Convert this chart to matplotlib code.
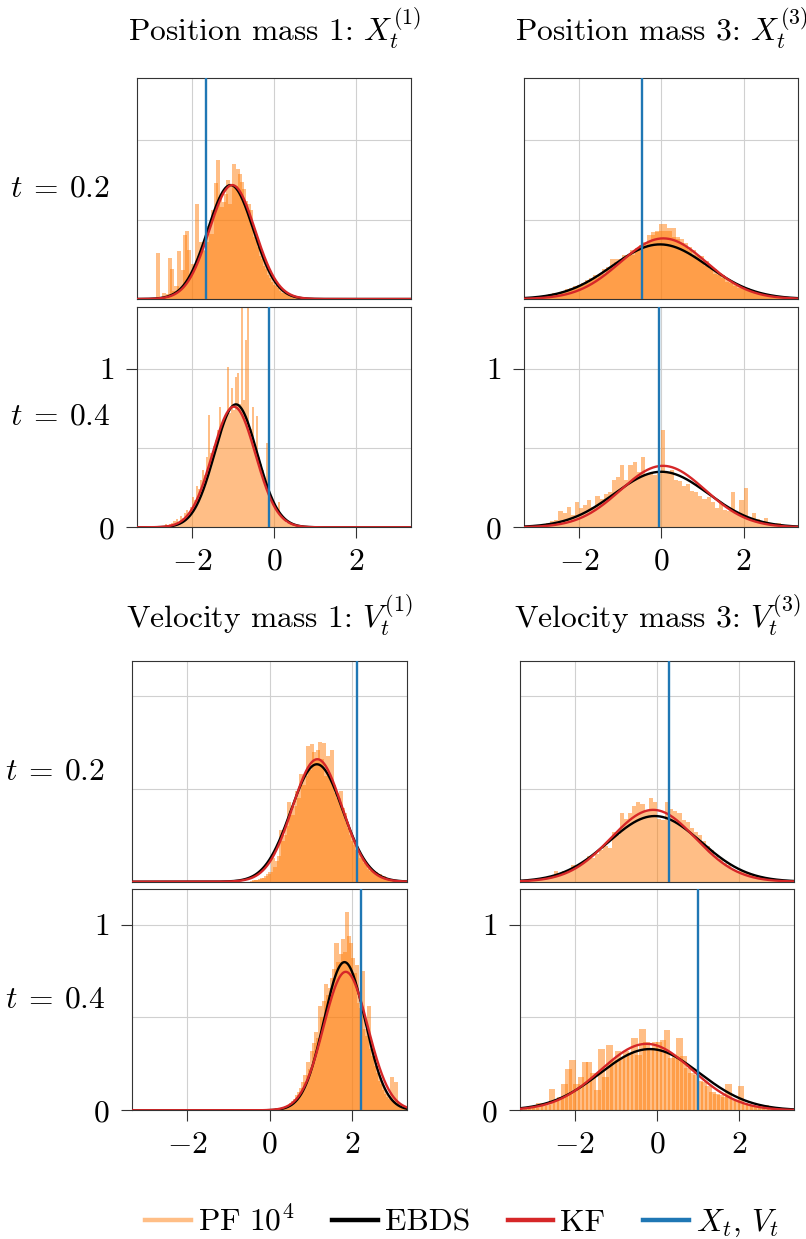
import numpy as np
import matplotlib
matplotlib.use("Agg")
import matplotlib.pyplot as plt
from matplotlib.lines import Line2D
from matplotlib.ticker import FixedLocator

plt.rcParams['font.family'] = ['cmr10', 'DejaVu Serif']
plt.rcParams['mathtext.fontset'] = 'cm'
plt.rcParams['axes.formatter.use_mathtext'] = True
FS = 22.7
plt.rcParams['font.size'] = FS

# ---------------------------------------------------------------
# data
# ---------------------------------------------------------------

panels = ['pos1_t02', 'pos1_t04', 'pos3_t02', 'pos3_t04',
          'vel1_t02', 'vel1_t04', 'vel3_t02', 'vel3_t04']

# histogram (PF 10^4) : first bin edge, bin width, densities
hist_start = [-2.85, -2.70, -3.30, -3.30, -0.45, 0.00, -3.30, -3.30]
hist_width = [0.05, 0.05, 0.1, 0.1, 0.05, 0.05, 0.1, 0.1]

hist_pos1_t02 = [0.29, 0.01, 0.0, 0.035, 0.02, 0.03, 0.26, 0.19, 0.05, 0.08,
                 0.30, 0.06, 0.18, 0.40, 0.43, 0.31, 0.15, 0.22, 0.20, 0.60,
                 0.27, 0.36, 0.30, 0.31, 0.36, 0.46, 0.41, 0.56, 0.73, 0.875,
                 0.64, 0.58, 0.61, 0.66, 0.75, 0.60, 0.72, 0.85, 0.71, 0.82,
                 0.79, 0.74, 0.69, 0.62, 0.60, 0.56, 0.45, 0.39, 0.37, 0.33,
                 0.27, 0.25, 0.21, 0.19, 0.15, 0.13, 0.11, 0.09, 0.08, 0.07,
                 0.05, 0.04, 0.04, 0.03, 0.025, 0.02, 0.015, 0.01, 0.01, 0.005,
                 0.005]

hist_pos1_t04 = [0.01, 0.02, 0.01, 0.02, 0.03, 0.04, 0.05, 0.03, 0.07, 0.06,
                 0.09, 0.11, 0.08, 0.13, 0.19, 0.17, 0.26, 0.24, 0.30, 0.36,
                 0.33, 0.44, 0.71, 0.47, 0.51, 0.55, 0.61, 0.76, 0.63, 0.66,
                 0.70, 1.01, 0.72, 0.88, 0.74, 0.95, 0.97, 0.78, 1.45, 0.80,
                 1.18, 1.45, 0.62, 0.76, 0.52, 0.70, 0.44, 0.40, 0.36, 0.30,
                 0.53, 0.24, 0.19, 0.17, 0.14, 0.12, 0.16, 0.08, 0.07, 0.05,
                 0.03, 0.02, 0.02, 0.01, 0.01, 0.01, 0.005, 0.005]

hist_pos3_t02 = [0.005, 0.01, 0.015, 0.02, 0.02, 0.025, 0.03, 0.035, 0.04, 0.05,
                 0.06, 0.07, 0.08, 0.09, 0.10, 0.12, 0.13, 0.15, 0.16, 0.19,
                 0.20, 0.25, 0.23, 0.25, 0.28, 0.28, 0.31, 0.32, 0.34, 0.36,
                 0.40, 0.42, 0.43, 0.47, 0.43, 0.45, 0.39, 0.38, 0.35, 0.33,
                 0.31, 0.28, 0.27, 0.24, 0.21, 0.19, 0.16, 0.15, 0.13, 0.11,
                 0.10, 0.08, 0.07, 0.07, 0.05, 0.05, 0.04, 0.03, 0.03, 0.02,
                 0.02, 0.015, 0.01, 0.01, 0.005, 0.005]

hist_pos3_t04 = [0.0, 0.01, 0.005, 0.01, 0.01, 0.025, 0.04, 0.045, 0.10, 0.09,
                 0.13, 0.08, 0.16, 0.12, 0.14, 0.17, 0.13, 0.20, 0.18, 0.21,
                 0.22, 0.30, 0.32, 0.39, 0.30, 0.39, 0.41, 0.35, 0.44, 0.33,
                 0.34, 0.33, 0.35, 0.61, 0.34, 0.36, 0.30, 0.29, 0.26, 0.27,
                 0.23, 0.22, 0.20, 0.18, 0.19, 0.16, 0.12, 0.15, 0.11, 0.10,
                 0.22, 0.09, 0.17, 0.25, 0.06, 0.09, 0.05, 0.04, 0.06, 0.03,
                 0.02, 0.03, 0.01, 0.005, 0.005, 0.0]

hist_vel1_t02 = [0.005, 0.01, 0.01, 0.01, 0.015, 0.02, 0.02, 0.03, 0.04, 0.05,
                 0.13, 0.08, 0.11, 0.14, 0.28, 0.22, 0.25, 0.30, 0.43, 0.38,
                 0.36, 0.41, 0.49, 0.45, 0.58, 0.52, 0.57, 0.73, 0.60, 0.74,
                 0.70, 0.66, 0.71, 0.755, 0.66, 0.75, 0.57, 0.68, 0.56, 0.71,
                 0.52, 0.48, 0.45, 0.49, 0.40, 0.37, 0.32, 0.29, 0.25, 0.22,
                 0.20, 0.17, 0.15, 0.13, 0.12, 0.10, 0.09, 0.07, 0.06, 0.06,
                 0.05, 0.04, 0.04, 0.03, 0.03, 0.02, 0.02, 0.015, 0.01, 0.01,
                 0.01, 0.005, 0.005, 0.005, 0.0]

hist_vel1_t04 = [0.0, 0.005, 0.005, 0.01, 0.01, 0.01, 0.015, 0.02, 0.02, 0.03,
                 0.04, 0.05, 0.06, 0.08, 0.10, 0.12, 0.15, 0.19, 0.26, 0.22,
                 0.32, 0.36, 0.42, 0.39, 0.56, 0.50, 0.59, 0.68, 0.62, 0.66,
                 0.71, 0.76, 0.90, 0.80, 0.84, 0.92, 0.85, 1.07, 0.94, 0.90,
                 0.82, 0.74, 0.78, 0.58, 0.55, 0.75, 0.44, 0.40, 0.56, 0.33,
                 0.29, 0.24, 0.20, 0.16, 0.14, 0.11, 0.09, 0.07, 0.06, 0.18,
                 0.05, 0.15, 0.04, 0.03, 0.02, 0.02, 0.01]

hist_vel3_t02 = [0.005, 0.01, 0.01, 0.015, 0.02, 0.015, 0.02, 0.025, 0.06, 0.04,
                 0.06, 0.05, 0.09, 0.08, 0.09, 0.11, 0.14, 0.13, 0.15, 0.17,
                 0.19, 0.18, 0.27, 0.25, 0.37, 0.34, 0.37, 0.41, 0.43, 0.42,
                 0.38, 0.45, 0.43, 0.34, 0.33, 0.43, 0.39, 0.38, 0.37, 0.33,
                 0.32, 0.29, 0.27, 0.25, 0.22, 0.19, 0.17, 0.14, 0.12, 0.10,
                 0.09, 0.07, 0.06, 0.06, 0.05, 0.04, 0.035, 0.03, 0.025, 0.02,
                 0.015, 0.01, 0.01, 0.005, 0.005, 0.0]

hist_vel3_t04 = [0.005, 0.01, 0.01, 0.015, 0.04, 0.025, 0.03, 0.115, 0.05, 0.07,
                 0.14, 0.22, 0.27, 0.14, 0.18, 0.26, 0.26, 0.20, 0.11, 0.33,
                 0.18, 0.35, 0.27, 0.32, 0.28, 0.32, 0.31, 0.39, 0.30, 0.44,
                 0.37, 0.33, 0.37, 0.37, 0.38, 0.43, 0.28, 0.29, 0.39, 0.29,
                 0.23, 0.20, 0.19, 0.16, 0.15, 0.13, 0.10, 0.09, 0.08, 0.07,
                 0.14, 0.06, 0.05, 0.13, 0.04, 0.03, 0.025, 0.02, 0.02, 0.03,
                 0.015, 0.01, 0.01, 0.005, 0.005, 0.0]

hists = [hist_pos1_t02, hist_pos1_t04, hist_pos3_t02, hist_pos3_t04,
         hist_vel1_t02, hist_vel1_t04, hist_vel3_t02, hist_vel3_t04]

# gaussian posteriors (mean, std)
ebds_mean = [-1.06, -0.93, -0.03, 0.00, 1.15, 1.82, -0.05, -0.17]
ebds_std = [0.556, 0.515, 1.16, 1.14, 0.63, 0.50, 1.127, 1.21]
kf_mean = [-1.02, -0.98, 0.05, 0.04, 1.16, 1.85, -0.09, -0.25]
kf_std = [0.556, 0.525, 1.045, 1.03, 0.604, 0.535, 1.03, 1.115]

# true state
truth = [-1.65, -0.12, -0.48, -0.056, 2.12, 2.21, 0.30, 1.01]

titles = ['Position mass 1: $X_t^{(1)}$', 'Position mass 3: $X_t^{(3)}$',
          'Velocity mass 1: $V_t^{(1)}$', 'Velocity mass 3: $V_t^{(3)}$']
row_labels = [r'$t\:=\:0.2$', r'$t\:=\:0.4$']
legend_labels = [r'$\mathrm{PF}\ 10^4$', 'EBDS', 'KF', '$X_t$, $V_t$']

# ---------------------------------------------------------------
# layout (pixels: left, top, right, bottom)
# ---------------------------------------------------------------
W, H = 806, 1239
boxes = [(137.3, 78.3, 411.0, 299.0), (137.3, 306.7, 411.0, 527.3),
         (524.3, 78.3, 798.3, 299.0), (524.3, 306.7, 798.3, 527.3),
         (132.3, 661.0, 406.7, 881.7), (132.3, 889.3, 406.7, 1110.3),
         (520.0, 661.0, 793.7, 881.7), (520.0, 889.3, 793.7, 1110.3)]
ymax = [1.39, 1.39, 1.39, 1.39, 1.19, 1.19, 1.19, 1.19]
overlap = [2.0, 1.0, 2.0, 1.0, 2.0, 2.0, 1.0, 1.6]
left_col = [True, True, False, False, True, True, False, False]

ORANGE = '#ff7f0e'
RED = '#d62728'
BLUE = '#1f77b4'


def gauss(x, m, s):
    return np.exp(-0.5 * ((x - m) / s) ** 2) / (s * np.sqrt(2 * np.pi))


fig = plt.figure(figsize=(W / 100, H / 100), dpi=100)
xs = np.linspace(-3.34, 3.34, 600)

for i, name in enumerate(panels):
    l, t, r, b = boxes[i]
    ax = fig.add_axes([l / W, 1 - b / H, (r - l) / W, (b - t) / H])

    h = np.array(hists[i])
    w = hist_width[i]
    centers = hist_start[i] + w * (np.arange(len(h)) + 0.5)
    ax.bar(centers, h, width=w * overlap[i], color=ORANGE, alpha=0.5,
           linewidth=0, zorder=2)

    ax.plot(xs, gauss(xs, ebds_mean[i], ebds_std[i]), color='black', lw=1.7, zorder=3)
    ax.plot(xs, gauss(xs, kf_mean[i], kf_std[i]), color=RED, lw=1.7, zorder=4)
    ax.axvline(truth[i], color=BLUE, lw=1.7, zorder=5)

    ax.set_xlim(-3.33, 3.33)
    ax.set_ylim(0, ymax[i])
    ax.set_xticks([-2, 0, 2])
    ax.set_xticklabels(['$-2$', '$0$', '$2$'])
    ax.set_yticks([0, 1])
    ax.set_yticklabels(['$0$', '$1$'])
    ax.yaxis.set_minor_locator(FixedLocator([0.5]))
    ax.grid(True, which='major', color='#d0d0d0', lw=0.8, zorder=0)
    ax.grid(True, which='minor', axis='y', color='#d0d0d0', lw=0.8, zorder=0)
    ax.set_axisbelow(True)
    ax.tick_params(which='minor', length=0)
    ax.tick_params(which='major', direction='out', length=8, width=0.8,
                   color='#333333', labelsize=FS)
    ax.tick_params(axis='x', pad=7)
    ax.tick_params(axis='y', pad=8.3)
    for sp in ax.spines.values():
        sp.set_color('#333333')
        sp.set_linewidth(0.8)

    first_row = (i % 2 == 0)
    if first_row:
        # first row: no ticks
        ax.tick_params(which='major', length=0, labelbottom=False, labelleft=False)
        fig.text((l + r) / 2 / W, 1 - (41 if t < 400 else 628) / H,
                 titles[i // 2], ha='center', va='baseline', fontsize=FS)
    if left_col[i]:
        fig.text((l - 77) / W, 1 - (t + b) / 2 / H, row_labels[0 if first_row else 1],
                 ha='center', va='center', fontsize=FS)

handles = [Line2D([], [], color=ORANGE, alpha=0.5, lw=3.2),
           Line2D([], [], color='black', lw=3.2),
           Line2D([], [], color=RED, lw=3.2),
           Line2D([], [], color=BLUE, lw=3.2)]
fig.legend(handles, legend_labels, loc='center', ncol=4, frameon=False,
           bbox_to_anchor=(462 / W, 1 - 1222 / H), fontsize=FS,
           handlelength=1.45, handletextpad=0.22, columnspacing=1.2)

fig.savefig('out.png', dpi=100)
